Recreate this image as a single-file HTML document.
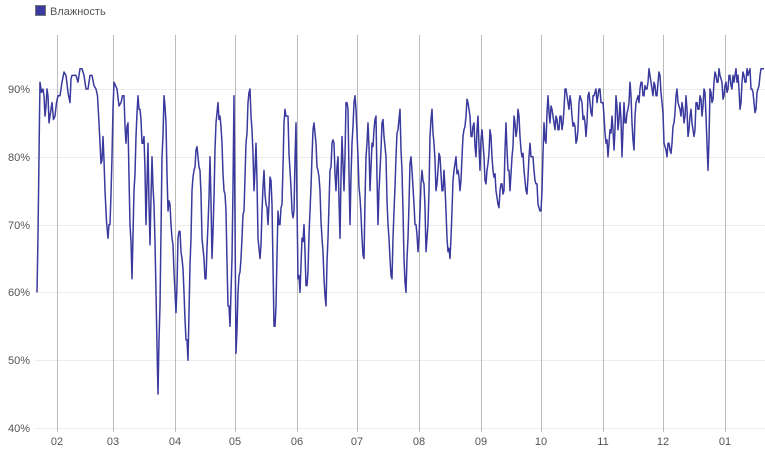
<!DOCTYPE html><html><head><meta charset="utf-8"><style>
body{margin:0;background:#fff;font-family:"Liberation Sans",sans-serif;}
svg text{font-family:"Liberation Sans",sans-serif;fill:#555;font-size:11px}
</style></head><body>
<svg id="s" width="765" height="451" xmlns="http://www.w3.org/2000/svg">
<rect x="35.5" y="5.5" width="10" height="10" fill="#3a3a9e" stroke="#777" stroke-width="1"/>
<text x="50" y="15">Влажность</text>
<g stroke="#ebebeb" stroke-width="1">
<line x1="35" x2="765" y1="89.5" y2="89.5"/><line x1="35" x2="765" y1="157.5" y2="157.5"/>
<line x1="35" x2="765" y1="225.5" y2="225.5"/><line x1="35" x2="765" y1="292.5" y2="292.5"/>
<line x1="35" x2="765" y1="360.5" y2="360.5"/><line x1="35" x2="765" y1="428.5" y2="428.5"/>
</g>
<g text-anchor="end">
<text x="30" y="93">90%</text><text x="30" y="161">80%</text><text x="30" y="229">70%</text>
<text x="30" y="296">60%</text><text x="30" y="364">50%</text><text x="30" y="432">40%</text>
</g>
<g id="v" stroke="#bbb" stroke-width="1"></g>
<g id="xl" text-anchor="middle"></g>
<polyline id="p" fill="none" stroke="#3a3a9e" stroke-width="1.5" stroke-linejoin="round"/>
</svg>
<script>
var gx=[57,113,175,235,297,357,419,481,541,603,663,725],lb=["02","03","04","05","06","07","08","09","10","11","12","01"];
var v=document.getElementById("v"),xl=document.getElementById("xl"),h="",t="";
gx.forEach(function(x,i){h+='<line x1="'+(x+.5)+'" x2="'+(x+.5)+'" y1="35" y2="432"/>';t+='<text x="'+x+'" y="445">'+lb[i]+'</text>';});
v.innerHTML=h;xl.innerHTML=t;
var d=[37,60,39,80,40,91,43,90,45,86,47,90,49,85,52,88,55,86,58,89,62,91,66,92,70,88,72,92,76,92,80,93,84,92,88,90,92,92,96,90,99,85,101,79,103,83,105,75,108,68,110,70,112,80,114,91,117,90,121,88,124,89,126,82,128,85,130,70,132,62,134,75,136,83,138,89,140,87,142,82,144,83,146,70,148,82,150,67,152,80,154,73,156,60,158,45,160,58,162,80,164,89,166,85,168,72,170,73,172,68,174,63,176,57,178,68,180,69,182,65,184,60,186,53,188,50,190,64,192,75,194,78,196,81,198,80,200,78,202,68,204,65,206,62,208,70,210,80,212,65,214,74,216,85,218,88,220,86,222,82,224,75,226,72,228,58,230,55,232,65,234,89,236,51,238,60,240,63,242,68,244,72,246,82,248,88,250,90,252,84,254,75,256,82,258,68,260,65,262,72,264,78,266,73,268,70,270,77,272,73,274,55,276,58,278,72,280,70,282,73,284,85,286,86,288,86,290,78,292,72,294,72,296,85,298,62,300,60,302,68,304,70,306,61,308,63,310,72,312,80,314,85,316,82,318,78,320,75,322,68,324,62,326,58,328,68,330,78,332,82,334,82,336,75,338,80,340,68,342,83,344,75,346,88,348,87,350,70,352,82,354,88,356,87,358,80,360,74,362,68,364,65,366,80,368,85,370,75,372,82,374,84,376,86,378,70,380,78,382,85,384,83,386,80,388,70,390,65,392,62,394,72,396,80,398,84,400,87,402,78,404,65,406,60,408,68,410,79,412,78,414,73,416,70,418,66,420,72,422,78,424,76,426,66,428,70,430,83,432,87,434,82,436,75,438,78,440,80,442,75,444,78,446,72,448,66,450,65,452,72,454,78,456,80,458,78,460,75,462,80,464,84,466,86,468,88,470,86,472,83,474,85,476,80,478,86,480,78,482,84,484,80,486,76,488,79,490,84,492,80,494,77,496,75,498,73,500,75,502,76,504,75,506,85,508,78,510,75,512,80,514,86,516,83,518,87,520,83,522,80,524,78,526,75,528,77,530,82,532,80,534,78,536,76,538,73,540,72,542,75,544,85,546,82,548,89,550,85,552,87,554,85,556,86,558,84,560,86,562,84,564,87,566,90,568,88,570,89,572,86,574,85,576,82,578,84,580,89,582,88,584,86,586,83,588,89,590,88,592,86,594,89,596,90,598,89,600,90,602,88,604,86,606,82,608,80,610,84,612,86,614,81,616,89,618,84,620,88,622,80,624,88,626,85,628,87,630,91,632,85,634,81,636,88,638,89,640,90,642,91,644,89,646,90,648,91,650,92,652,90,654,91,656,89,658,91,660,92,662,88,664,82,666,81,668,82,670,81,672,82,674,85,676,89,678,88,680,87,682,88,684,85,686,89,688,83,690,86,692,85,694,83,696,88,698,87,700,89,702,86,704,90,706,86,708,78,710,90,712,88,714,91,716,92,718,91,720,92,722,91,724,89,726,91,728,90,730,92,732,90,734,91,736,93,738,92,740,87,742,91,744,92,746,91,748,92,750,93,752,90,754,88,756,87,758,90,760,92,762,93,764,93];
function Y(val){return (89+(90-val)*6.78).toFixed(1);}
var pts=[];
for(var i=0;i<d.length;i+=2){
  pts.push(d[i]+","+Y(d[i+1]));
  if(i+2<d.length){
    var mx=(d[i]+d[i+2])/2, mv=(d[i+1]+d[i+3])/2+((i*37)%7-3)*0.5;
    pts.push(mx+","+Y(Math.min(mv,93)));
  }
}
document.getElementById("p").setAttribute("points",pts.join(" "));
</script>
</body></html>
